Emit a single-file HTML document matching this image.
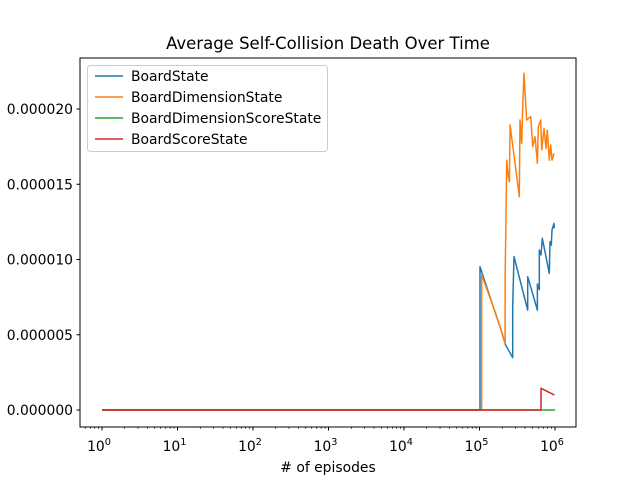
<!DOCTYPE html>
<html><head><meta charset="utf-8"><style>
body{margin:0;background:#fff}
svg{display:block;font-family:"DejaVu Sans","Liberation Sans",sans-serif}
</style></head><body>
<svg id="c" width="640" height="480">
<rect width="640" height="480" fill="#fff"/>
<text x="328" y="49" font-size="16.5" text-anchor="middle">Average Self-Collision Death Over Time</text>
<g id="plot"></g>
<rect x="80" y="58" width="496" height="369" fill="none" stroke="#000" stroke-width="1"/>
<g id="axes"></g>
<text x="328" y="472" font-size="13.9" text-anchor="middle"># of episodes</text>
<g>
<rect x="87.5" y="65.5" width="240" height="86" rx="3" fill="#fff" fill-opacity="0.8" stroke="#ccc"/>
<g id="leg"></g>
</g>
</svg>
<script>
const seriesNames=["BoardState","BoardDimensionState","BoardDimensionScoreState","BoardScoreState"];
const colors=["#1f77b4","#ff7f0e","#2ca02c","#d62728"];
const blueX=[1,1.016e5,1.016e5,1.52e5,1.87e5,2.22e5,2.75e5,2.75e5,2.86e5,4.35e5,4.35e5,5.84e5,5.84e5,6.19e5,6.19e5,6.53e5,6.79e5,8.41e5,8.59e5,8.93e5,9.12e5,9.7e5,9.8e5];
const blueY=[0,0,9.52,6.87,5.54,4.32,3.48,6.87,10.19,6.64,8.86,6.64,8.37,8.0,10.63,10.3,11.41,9.08,11.18,10.96,11.96,12.4,12.07];
const orangeX=[1,1.07e5,1.07e5,1.52e5,1.87e5,2.18e5,2.18e5,2.24e5,2.29e5,2.41e5,2.49e5,2.54e5,3.37e5,3.44e5,3.62e5,3.73e5,3.88e5,4.21e5,4.76e5,5.06e5,5.43e5,5.84e5,6.01e5,6.46e5,6.66e5,7.15e5,7.6e5,7.91e5,8.41e5,8.77e5,9.12e5,9.7e5];
const orangeY=[0,0,8.97,6.87,5.54,4.43,8.64,12.4,16.6,15.5,15.17,18.94,14.17,19.27,17.72,20.15,22.37,19.27,19.49,17.5,18.16,16.39,18.82,19.27,17.28,18.72,17.39,18.6,16.6,17.61,16.6,17.06];
const greenX=[1,1e6];
const greenY=[0,0];
const redX=[1,6.53e5,6.53e5,9.8e5];
const redY=[0,0,1.44,1.0];
const yTicks=[0,5,10,15,20];
const yTickLabels=["0.000000","0.000005","0.000010","0.000015","0.000020"];
const xTickExps=[0,1,2,3,4,5,6];
const NS="http://www.w3.org/2000/svg";
function xs(v){return 102+Math.log10(v)*75.5;}
function ys(v){return 410-v*15.05;}
function mk(t,a,p){const e=document.createElementNS(NS,t);for(const k in a)e.setAttribute(k,a[k]);p.appendChild(e);return e;}
const plot=document.getElementById('plot'),axes=document.getElementById('axes'),leg=document.getElementById('leg');
const all=[[blueX,blueY],[orangeX,orangeY],[greenX,greenY],[redX,redY]];
const lineNames=["line-boardstate","line-boarddimensionstate","line-boarddimensionscorestate","line-boardscorestate"];
all.forEach((s,i)=>{
 const pts=s[0].map((x,j)=>xs(x).toFixed(1)+","+ys(s[1][j]).toFixed(1)).join(" ");
 const pl=mk('polyline',{points:pts,fill:'none',stroke:colors[i],'stroke-width':1.5,'stroke-linejoin':'round'},plot);
 
 
});
yTicks.forEach((v,i)=>{
 const y=ys(v);
 const t=mk('line',{x1:76.5,x2:80,y1:y,y2:y,stroke:'#000'},axes);
 
 
 const l=mk('text',{x:73,y:y+5,'font-size':13.9,'text-anchor':'end'},axes);
 l.textContent=yTickLabels[i];
 
 
});
for(let d=-1;d<=6;d++){for(let m=2;m<=9;m++){const x=xs(m*Math.pow(10,d));if(x<80||x>576)continue;
 const t=mk('line',{x1:x,x2:x,y1:427,y2:429,stroke:'#000','stroke-width':0.6},axes);
 
 }}
xTickExps.forEach(e=>{
 const x=xs(Math.pow(10,e));
 const t=mk('line',{x1:x,x2:x,y1:427,y2:430.5,stroke:'#000'},axes);
 
 
 const l=mk('text',{x:x-3,y:451,'font-size':13.9,'text-anchor':'middle'},axes);
 l.textContent='10';
 const s=mk('tspan',{dy:-6,'font-size':9.7},l);s.textContent=String(e);
 
 
});
seriesNames.forEach((n,i)=>{
 const y=76+i*21;
 const ln=mk('line',{x1:95,x2:123,y1:y,y2:y,stroke:colors[i],'stroke-width':1.5},leg);
 
 
 const t=mk('text',{x:131,y:y+5,'font-size':13.9},leg);
 t.textContent=n;
 
 
});
</script>
</body></html>
